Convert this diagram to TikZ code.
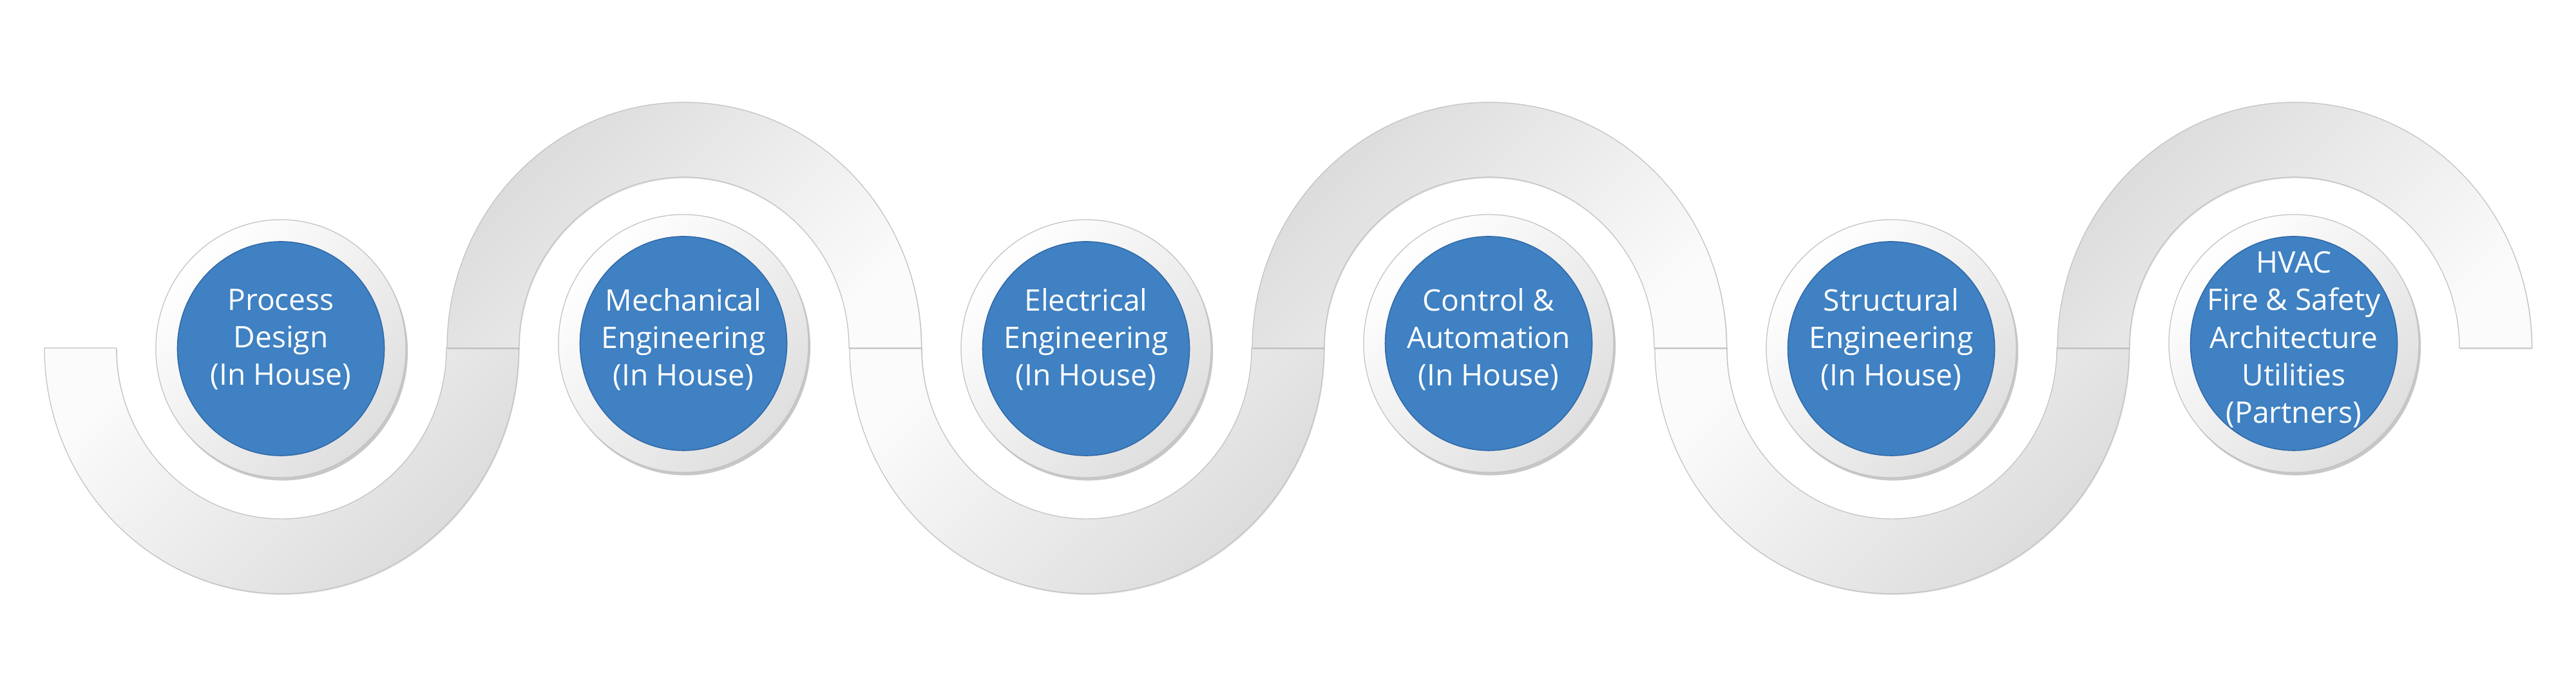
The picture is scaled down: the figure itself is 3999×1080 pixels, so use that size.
\documentclass[tikz,border=0pt]{standalone}
\usepackage{fontspec}
\setmainfont{Open Sans}
\usetikzlibrary{shapes.geometric,shadows}
\definecolor{bandline}{HTML}{C2C2C2}
\definecolor{bandlight}{HTML}{FBFBFB}
\definecolor{banddark}{HTML}{DADADA}
\definecolor{ringdark}{HTML}{DFDFDF}
\definecolor{stepblue}{HTML}{3F81C2}
\definecolor{stepedge}{HTML}{2D66A6}
\begin{document}
\begin{tikzpicture}[x=0.01cm,y=0.01cm,
  lowarc/.style={draw=bandline, line width=0.35pt, top color=bandlight, bottom color=banddark, shading angle=45,
    drop shadow={shadow xshift=0.012cm, shadow yshift=-0.018cm, opacity=0.22, fill=black!60}},
  uparc/.style={draw=bandline, line width=0.35pt, top color=banddark, bottom color=bandlight, shading angle=45,
    drop shadow={shadow xshift=0.012cm, shadow yshift=-0.018cm, opacity=0.22, fill=black!60}},
  ring/.style={ellipse, inner sep=0pt, minimum width=3.88cm, minimum height=4.0cm, draw=bandline, line width=0.35pt,
    top color=white, bottom color=ringdark, shading angle=45,
    drop shadow={shadow xshift=0.03cm, shadow yshift=-0.045cm, opacity=0.4, fill=black!55}},
  disc/.style={ellipse, inner sep=0pt, minimum width=3.21cm, minimum height=3.32cm, fill=stepblue, draw=stepedge, line width=0.4pt},
  steptext/.style={text=white, align=center, inner sep=0pt, font=\fontsize{13.1pt}{16.5pt}\selectfont}
]
\fill[white] (0,0) rectangle (3999,1080);
\useasboundingbox (0,0) rectangle (3999,1080);

% serpentine band
\foreach \cx in {437,1687,2937} {
  \path[lowarc] (\cx-368,540) arc[start angle=180, end angle=360, x radius=3.68cm, y radius=3.81cm]
    -- (\cx+256,540) arc[start angle=0, end angle=-180, x radius=2.56cm, y radius=2.65cm] -- cycle;
}
\foreach \cx in {1062,2312,3562} {
  \path[uparc] (\cx-368,540) arc[start angle=180, end angle=0, x radius=3.68cm, y radius=3.81cm]
    -- (\cx+256,540) arc[start angle=0, end angle=180, x radius=2.56cm, y radius=2.65cm] -- cycle;
}

% steps
\node[ring] (r1) at (436,539) {};
\node[disc] (d1) at (r1) {};
\node[steptext] (t1) at (436,553) {Process\\Design\\(In House)};

\node[ring] (r2) at (1061,547) {};
\node[disc] (d2) at (r2) {};
\node[steptext] (t2) at (1061,553) {Mechanical\\Engineering\\(In House)};

\node[ring] (r3) at (1686,539) {};
\node[disc] (d3) at (r3) {};
\node[steptext] (t3) at (1686,553) {Electrical\\Engineering\\(In House)};

\node[ring] (r4) at (2311,547) {};
\node[disc] (d4) at (r4) {};
\node[steptext] (t4) at (2311,553) {Control \&\\Automation\\(In House)};

\node[ring] (r5) at (2936,539) {};
\node[disc] (d5) at (r5) {};
\node[steptext] (t5) at (2936,553) {Structural\\Engineering\\(In House)};

\node[ring] (r6) at (3561,547) {};
\node[disc] (d6) at (r6) {};
\node[steptext] (t6) at (3561,553) {HVAC\\Fire \& Safety\\Architecture\\Utilities\\(Partners)};
\end{tikzpicture}
\end{document}
